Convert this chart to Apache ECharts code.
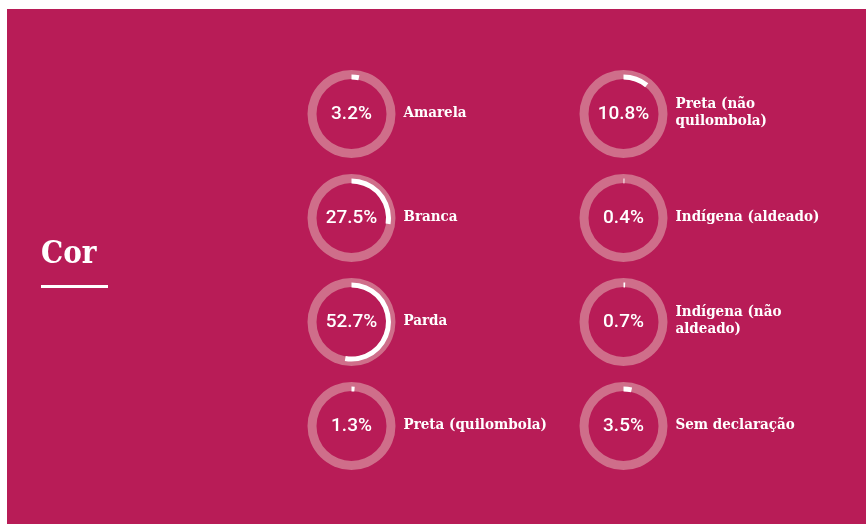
<!DOCTYPE html>
<html>
<head>
<meta charset="utf-8">
<script src="https://cdn.jsdelivr.net/npm/echarts@6/dist/echarts.min.js"></script>
<style>
  html, body { margin: 0; padding: 0; background: #fff; }
  #chart { width: 866px; height: 524px; }
</style>
</head>
<body>
<div id="chart"></div>
<script>
  // dados: cor / raça
  const categorias = ['Amarela', 'Branca', 'Parda', 'Preta (quilombola)',
    'Preta (não\nquilombola)', 'Indígena (aldeado)', 'Indígena (não\naldeado)', 'Sem declaração']
  const percentuais = [3.2, 27.5, 52.7, 1.3, 10.8, 0.4, 0.7, 3.5]
  const titulo = 'Cor'

  const bg = '#b81c57'
  const track = '#cf6e8a'
  const serif = '"DejaVu Serif Condensed", "DejaVu Serif"'
  const colX = [351.5, 623.5]
  const rowY = [114, 218, 322, 426]

  let chart = echarts.init(document.getElementById('chart'))

  let series = []
  let graphic = [
    {type: 'rect', z: -10, shape: {x: 7, y: 9, width: 859, height: 515}, style: {fill: bg}},
    {type: 'text', left: 41, top: 239, style: {text: titulo, fill: '#fff', font: 'bold 31px ' + serif}},
    {type: 'rect', shape: {x: 41, y: 285, width: 67, height: 3}, style: {fill: '#fff'}}
  ]

  categorias.forEach((nome, i) => {
    let cx = colX[Math.floor(i / 4)]
    let cy = rowY[i % 4]
    // anel de fundo
    series.push({
      type: 'pie',
      silent: true,
      center: [cx, cy],
      radius: [35, 44],
      label: {show: false},
      itemStyle: {color: track},
      data: [{value: 100}]
    })
    // arco do percentual
    series.push({
      type: 'pie',
      silent: true,
      center: [cx, cy],
      radius: [34.5, 39.5],
      startAngle: 90,
      clockwise: true,
      z: 3,
      label: {
        show: true,
        position: 'center',
        color: '#fff',
        fontFamily: 'Roboto',
        fontWeight: 500,
        fontSize: 19,
        formatter: p => p.dataIndex === 0 ? p.value.toFixed(1) + '%' : ''
      },
      data: [
        {value: percentuais[i], itemStyle: {color: '#fff'}},
        {value: 100 - percentuais[i], itemStyle: {color: 'transparent'}, label: {show: false}}
      ]
    })
    graphic.push({
      type: 'text',
      x: cx + 52,
      y: cy - 1,
      style: {
        text: nome,
        fill: '#fff',
        font: 'bold 15px ' + serif,
        lineHeight: 17,
        verticalAlign: 'middle'
      }
    })
  })

  chart.setOption({
    backgroundColor: '#fff',
    animation: false,
    graphic: graphic,
    series: series
  })
</script>
</body>
</html>
